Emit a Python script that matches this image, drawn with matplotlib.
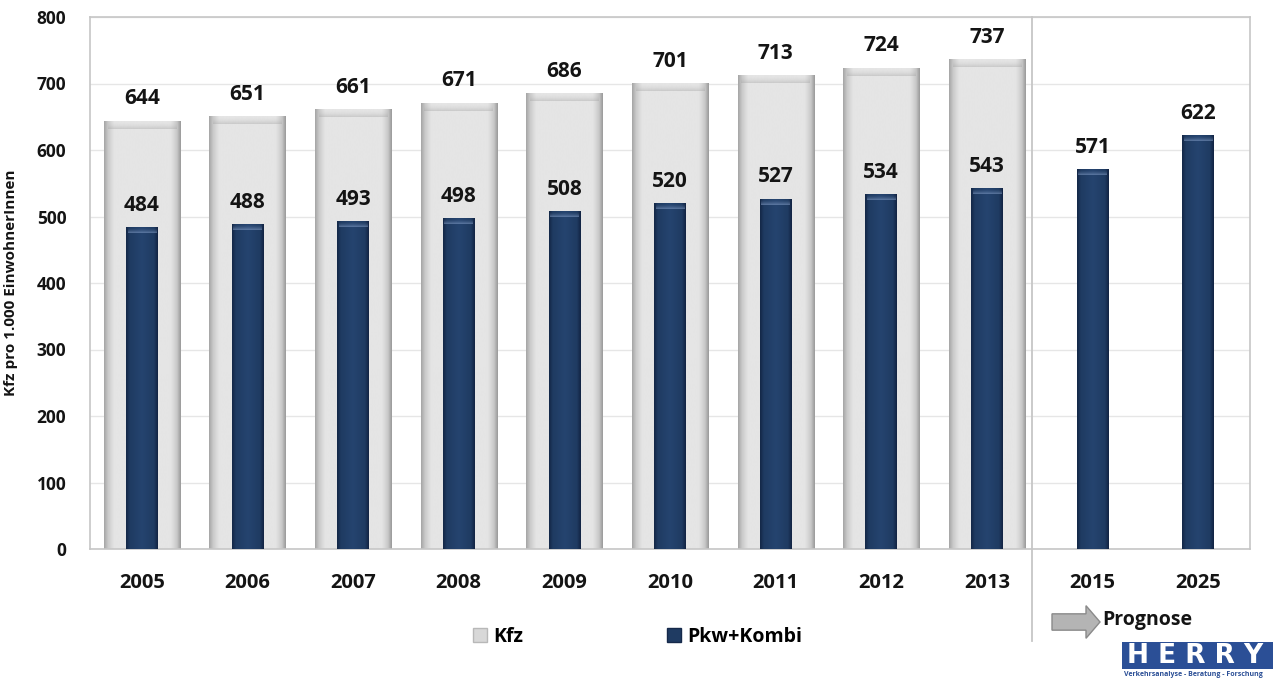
import numpy as np
import matplotlib
matplotlib.use("Agg")
import matplotlib.pyplot as plt
from matplotlib.patches import Patch, Rectangle, FancyArrow
from matplotlib.colors import LinearSegmentedColormap
import matplotlib.transforms as mtransforms

plt.rcParams['font.family'] = ['Open Sans', 'DejaVu Sans']

# --- data -------------------------------------------------------------
years = ["2005", "2006", "2007", "2008", "2009", "2010", "2011", "2012",
         "2013", "2015", "2025"]
kfz = [644, 651, 661, 671, 686, 701, 713, 724, 737]
pkw_kombi = [484, 488, 493, 498, 508, 520, 527, 534, 543, 571, 622]
y_ticks = [0, 100, 200, 300, 400, 500, 600, 700, 800]
legend_labels = ["Kfz", "Pkw+Kombi"]
y_label = "Kfz pro 1.000 EinwohnerInnen"
forecast_label = "Prognose"

LIGHT = "#e3e3e3"
DARK = "#1f3b62"
INK = "#141414"

fig = plt.figure(figsize=(12.73, 6.80), dpi=100)
ax = fig.add_axes([90 / 1273, 131 / 680, 1160 / 1273, 532 / 680])

x = np.arange(len(years))
x_kfz = x[:len(kfz)]

XLIM = (-0.49, 10.49)
YLIM = (0, 800)
ax.set_yticks(y_ticks)
ax.set_xticks(x)
ax.set_xticklabels(years, fontsize=14.5, fontweight="bold", color=INK)
ax.tick_params(axis="both", length=0, colors=INK)
ax.tick_params(axis="x", pad=17)
ax.tick_params(axis="y", labelsize=12.5, pad=17)
for lab in ax.get_yticklabels():
    lab.set_fontweight("bold")
ax.set_ylabel(y_label, fontsize=11, fontweight="bold", color=INK)
ax.yaxis.set_label_coords(-0.062, 0.5)

ax.grid(axis="y", color="#e6e6e6", linewidth=1.0, zorder=0)
ax.set_axisbelow(True)
for sp in ax.spines.values():
    sp.set_color("#c6c6c6")
    sp.set_linewidth(1.2)

bars_kfz = ax.bar(x_kfz, kfz, width=0.72, color=LIGHT, zorder=2,
                  label=legend_labels[0])
bars_pkw = ax.bar(x, pkw_kombi, width=0.30, color=DARK, zorder=3,
                  label=legend_labels[1])

# horizontal shading across the bar faces, clipped to each bar
light_cmap = LinearSegmentedColormap.from_list(
    "light", [(0, "#a4a4a4"), (0.05, "#c9c9c9"), (0.13, "#e5e5e5"),
              (0.87, "#e5e5e5"), (0.95, "#c9c9c9"), (1, "#989898")])
dark_cmap = LinearSegmentedColormap.from_list(
    "dark", [(0, "#132645"), (0.12, "#1f3b62"), (0.5, "#25446f"),
             (0.88, "#1f3b62"), (1, "#112241")])
grad = np.linspace(0, 1, 256).reshape(1, -1)


def shade(bars, cmap, z, top_px, top_rgb, top_alpha):
    for b in bars:
        x0, w, h = b.get_x(), b.get_width(), b.get_height()
        im = ax.imshow(grad, cmap=cmap, aspect="auto",
                       extent=(x0, x0 + w, 0, h), zorder=z,
                       interpolation="bicubic")
        im.set_clip_path(b)
        # rounded, bevelled top edge
        t = top_px / 66.5 * 100
        ramp = np.linspace(0, 1, 64).reshape(-1, 1) ** 2
        rgba = np.dstack([np.full((64, 1), c) for c in top_rgb]
                         + [ramp * top_alpha])
        ax.imshow(rgba, aspect="auto",
                  extent=(x0 + w * 0.05, x0 + w * 0.95, h - t, h),
                  zorder=z + 0.1, interpolation="bicubic")


shade(bars_kfz, light_cmap, 2.1, 8, (0.62, 0.62, 0.62), 0.4)
shade(bars_pkw, dark_cmap, 3.1, 6, (0.62, 0.72, 0.88), 0.5)
ax.set_xlim(*XLIM)
ax.set_ylim(*YLIM)

# value labels
for xi, v in zip(x_kfz, kfz):
    ax.text(xi, v + 17, str(v), ha="center", va="bottom",
            fontsize=15, fontweight="bold", color=INK, zorder=5)
for xi, v in zip(x, pkw_kombi):
    ax.text(xi, v + 17, str(v), ha="center", va="bottom",
            fontsize=15, fontweight="bold", color=INK, zorder=5)

# separator between observed and forecast years
sep_tr = mtransforms.blended_transform_factory(ax.transData, ax.transAxes)
ax.plot([8.43, 8.43], [1.0, -0.172], transform=sep_tr, color="#c6c6c6",
        linewidth=1.3, clip_on=False, zorder=1)

# legend
fig.legend(handles=[Patch(facecolor="#d8d8d8", edgecolor="#b8b8b8"),
                    Patch(facecolor=DARK, edgecolor="#16294a")],
           labels=legend_labels, loc="center",
           bbox_to_anchor=(0.501, 1 - 637 / 680),
           ncol=2, frameon=False, prop={"weight": "bold", "size": 14},
           handlelength=0.7, handleheight=0.7, handletextpad=0.35,
           columnspacing=7.4)

# forecast arrow
arrow = FancyArrow(1052 / 1273, 1 - 622 / 680, 34 / 1273, 0,
                   width=0.024, head_width=0.048, head_length=14 / 1273,
                   length_includes_head=False, transform=fig.transFigure,
                   facecolor="#b4b4b4", edgecolor="#8a8a8a", linewidth=1)
fig.patches.append(arrow)
fig.text(1102 / 1273, 1 - 620 / 680, forecast_label, ha="left",
         va="center", fontsize=14, fontweight="bold", color=INK)

# company logo
fig.patches.append(Rectangle((1122 / 1273, 1 - 669 / 680), 170 / 1273,
                             27 / 680, transform=fig.transFigure,
                             facecolor="#2b4f96", edgecolor="none"))
fig.text(1127 / 1273, 1 - 656 / 680, "H E R R Y", ha="left", va="center",
         fontsize=19, fontweight="heavy", color="white",
         family=["DejaVu Sans"])
fig.text(1124 / 1273, 1 - 675 / 680,
         "Verkehrsanalyse - Beratung - Forschung", ha="left", va="center",
         fontsize=5, color="#2b4f96", fontweight="bold")

fig.savefig("out.png", dpi=100)
